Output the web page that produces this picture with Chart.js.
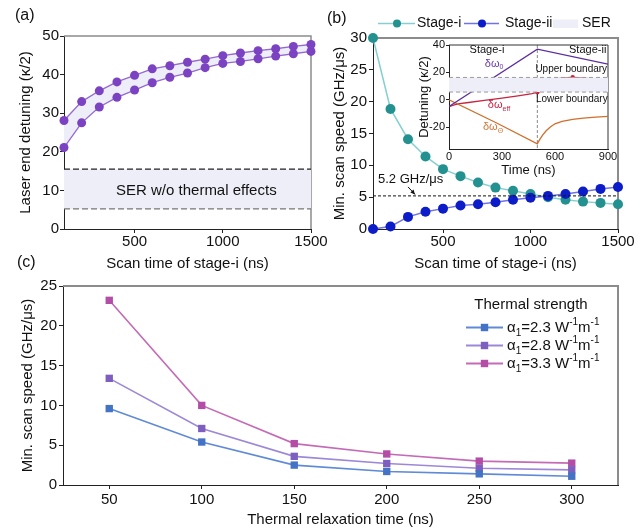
<!DOCTYPE html>
<html><head><meta charset="utf-8">
<script src="https://cdn.jsdelivr.net/npm/chart.js@4.4.0/dist/chart.umd.min.js"></script>
<style>
html,body{margin:0;padding:0;background:#fff;}
#wrap{position:relative;width:644px;height:529px;overflow:hidden;font-family:'Liberation Sans',Arial,sans-serif;background:#fff;}
canvas{position:absolute;}
.pl{position:absolute;font-size:16px;color:#111;line-height:20px;}
</style></head><body>
<div id="wrap">
<canvas id="ca" width="330" height="280" style="left:0;top:0;width:330px;height:280px"></canvas>
<canvas id="cb" width="322" height="280" style="left:322px;top:0;width:322px;height:280px"></canvas>
<canvas id="ci" width="225" height="145" style="left:395px;top:35px;width:225px;height:145px"></canvas>
<canvas id="cc" width="644" height="254" style="left:0;top:275px;width:644px;height:254px"></canvas>
<div class="pl" style="left:15px;top:5px">(a)</div>
<div class="pl" style="left:327px;top:8px">(b)</div>
<div class="pl" style="left:17px;top:252px">(c)</div>
</div>
<script>
// ---------- data ----------
const scanTimes = [100,200,300,400,500,600,700,800,900,1000,1100,1200,1300,1400,1500];
const scanTimeTicks = [500,1000,1500];
const endDetuningUpper = [28.1,33.0,35.8,38.1,39.8,41.5,42.3,43.2,44.0,44.9,45.6,46.2,46.7,47.3,47.8];
const endDetuningLower = [21.1,27.5,31.6,34.1,36.0,37.9,39.3,40.4,41.8,42.9,43.4,44.1,44.8,45.4,46.0];
const serNoThermal = [5.2, 15.5];

const stageISpeed  = [30,18.85,14.1,11.4,9.4,8.3,7.3,6.5,6.0,5.5,5.0,4.6,4.3,4.1,3.9];
const stageIISpeed = [0,0.4,1.9,2.7,3.2,3.7,3.9,4.2,4.6,4.9,5.2,5.5,5.9,6.3,6.6];
const minSpeedLine = 5.2;

const insetTimeOmega0 = [0,500,900];
const insetOmega0 = [-5,37,26];
const insetTimeEff = [0,30,60,100,200,300,400,470,500,510,525,550,575,600,640,700,760,830,900];
const insetOmegaEff = [-5,-3.8,-2.9,-2.2,-0.5,1.2,3.0,4.4,5.5,6.3,8.2,11,13.5,15,16,16.4,16,14.9,13.5];
const insetEffMarkTimes = [500,700];
const insetTimeTheta = [0,270,500,505,515,530,550,575,600,640,700,760,830,900];
const insetOmegaTheta = [0,-17,-32.2,-31,-28.8,-25.8,-22.7,-19.8,-17.6,-15.8,-14.3,-13.4,-12.7,-12.2];
const insetSER = [5.6, 16.3];
const stageBoundary = 500;
const insetXTicks = [0,300,600,900];
const insetYTicks = [-20,0,20,40];

const relaxTimes = ['50','100','150','200','250','300'];
const speedAlpha23 = [9.6,5.4,2.5,1.7,1.4,1.1];
const speedAlpha28 = [13.4,7.1,3.6,2.7,2.1,1.9];
const speedAlpha33 = [23.2,10.0,5.2,3.9,3.0,2.75];
const alphaValues = ['2.3','2.8','3.3'];

// ---------- helpers ----------
const FF = "'Liberation Sans', Arial, Helvetica, sans-serif";
Chart.defaults.font.family = FF;
Chart.defaults.color = '#111';
const toXY = (xs, ys) => xs.map((x,i)=>({x:x, y:ys[i]}));

function richText(ctx, x, y, parts, size, color, align){
  // parts: [{t, s:'sub'|'sup'}]
  let w = 0;
  const fs = p => p.s ? p.sz || Math.round(size*0.66) : size;
  parts.forEach(p=>{ ctx.font = fs(p)+'px '+FF; w += ctx.measureText(p.t).width; });
  let cx = align==='center' ? x - w/2 : (align==='right' ? x - w : x);
  ctx.textAlign='left'; ctx.textBaseline='middle';
  parts.forEach(p=>{
    ctx.font = fs(p)+'px '+FF;
    ctx.fillStyle = p.c || color;
    let dy = 0;
    if (p.s==='sub') dy = size*0.35;
    if (p.s==='sup') dy = -size*0.33;
    ctx.fillText(p.t, cx, y+dy);
    cx += ctx.measureText(p.t).width;
  });
}

const framePlugin = {
  id:'frame',
  beforeDatasetsDraw(chart, args, opts){
    const {ctx, chartArea:a} = chart;
    ctx.save();
    ctx.strokeStyle = opts.color || '#8c8c8c';
    ctx.lineWidth = opts.width || 2;
    ctx.beginPath();
    ctx.moveTo(a.left, a.top); ctx.lineTo(a.right, a.top); ctx.lineTo(a.right, a.bottom);
    ctx.stroke();
    ctx.restore();
  }
};

function axisX(opt){
  return Object.assign({
    type:'linear',
    grid:{display:true, drawOnChartArea:false, drawTicks:true, tickLength:4, color:'#222'},
    border:{display:true, color:'#222', width:1},
    ticks:{padding:0, color:'#111', font:{size:15}, maxRotation:0, autoSkip:false, callback:v=>String(v)},
  }, opt);
}
function axisY(opt){
  return Object.assign({
    grid:{display:true, drawOnChartArea:false, drawTicks:true, tickLength:4, color:'#222'},
    border:{display:true, color:'#222', width:1},
    ticks:{padding:1, color:'#111', font:{size:15}, callback:v=>String(v)},
  }, opt);
}
const baseOpts = (padding) => ({
  responsive:false, animation:false, devicePixelRatio:1,
  layout:{padding:padding},
  plugins:{legend:{display:false}, tooltip:{enabled:false}},
  elements:{line:{tension:0}},
});

// ---------- panel (a) ----------
{
  const purpleM = '#7b42c2', purpleL = '#9468d0', band = '#eeeef8';
  const o = baseOpts({left:0, top:36, right:19, bottom:0});
  o.scales = {
    x: axisX({min:100, max:1500,
      afterBuildTicks:s=>{ s.ticks = scanTimeTicks.map(v=>({value:v})); },
      afterFit:s=>{ s.height = 51; },
      title:{display:true, text:'Scan time of stage-i (ns)', color:'#111', font:{size:15}, padding:{top:0,bottom:7}}
    }),
    y: axisY({min:0, max:50, ticks:{stepSize:10, padding:1, color:'#111', font:{size:15}},
      afterFit:s=>{ s.width = 64; },
      title:{display:true, text:'Laser end detuning (κ/2)', color:'#111', font:{size:15}, padding:{top:17,bottom:0}}
    })
  };
  o.plugins.frame = {color:'#8c8c8c', width:1.5};
  const labelPlugin = {
    id:'labA',
    afterDatasetsDraw(chart){
      const {ctx, scales} = chart;
      ctx.save();
      ctx.font = '15px '+FF; ctx.fillStyle = '#111'; ctx.textAlign='center'; ctx.textBaseline='middle';
      ctx.fillText('SER w/o thermal effects', scales.x.getPixelForValue(850), scales.y.getPixelForValue(10));
      ctx.restore();
    }
  };
  new Chart(document.getElementById('ca'), {
    type:'line',
    data:{datasets:[
      {data:toXY([100,1500],[serNoThermal[1],serNoThermal[1]]), borderColor:'#222', borderWidth:1.2, borderDash:[6,3], pointRadius:0, fill:false},
      {data:toXY([100,1500],[serNoThermal[0],serNoThermal[0]]), borderColor:'#777', borderWidth:1.2, borderDash:[6,3], pointRadius:0, fill:'-1', backgroundColor:band},
      {data:toXY(scanTimes, endDetuningUpper), borderColor:purpleL, borderWidth:1.3, pointRadius:4.5, pointBackgroundColor:purpleM, pointBorderColor:purpleM, pointBorderWidth:0, fill:false, clip:false},
      {data:toXY(scanTimes, endDetuningLower), borderColor:purpleL, borderWidth:1.3, pointRadius:4.5, pointBackgroundColor:purpleM, pointBorderColor:purpleM, pointBorderWidth:0, fill:'-1', backgroundColor:band, clip:false},
    ]},
    options:o,
    plugins:[framePlugin, labelPlugin]
  });
}

// ---------- panel (b) ----------
{
  const tealM='#23918f', tealL='#86cfcf', blueM='#0c1cc8', blueL='#7074e2';
  const o = baseOpts({left:0, top:38, right:26, bottom:0});
  o.scales = {
    x: axisX({min:100, max:1500,
      afterBuildTicks:s=>{ s.ticks = scanTimeTicks.map(v=>({value:v})); },
      afterFit:s=>{ s.height = 51; },
      title:{display:true, text:'Scan time of stage-i (ns)', color:'#111', font:{size:15}, padding:{top:0,bottom:7}}
    }),
    y: axisY({min:0, max:30, ticks:{stepSize:5, padding:2, color:'#111', font:{size:15}},
      afterFit:s=>{ s.width = 51; },
      title:{display:true, text:'Min. scan speed (GHz/μs)', color:'#111', font:{size:15}, padding:{top:9,bottom:0}}
    })
  };
  o.plugins.frame = {color:'#8c8c8c', width:2};
  const extra = {
    id:'labB',
    afterDatasetsDraw(chart){
      const {ctx, scales, chartArea:a} = chart;
      const yl = scales.y.getPixelForValue(minSpeedLine);
      ctx.save();
      ctx.font = '13px '+FF; ctx.fillStyle='#111'; ctx.textAlign='left'; ctx.textBaseline='middle';
      ctx.fillText('5.2 GHz/μs', a.left+5, yl-16);
      // arrow
      const x0=a.left+35, y0=yl-9, x1=a.left+42, y1=yl-1.5;
      ctx.strokeStyle='#111'; ctx.lineWidth=1;
      ctx.beginPath(); ctx.moveTo(x0,y0); ctx.lineTo(x1,y1); ctx.stroke();
      const ang=Math.atan2(y1-y0,x1-x0);
      ctx.beginPath(); ctx.moveTo(x1,y1);
      ctx.lineTo(x1-5*Math.cos(ang-0.45), y1-5*Math.sin(ang-0.45));
      ctx.lineTo(x1-5*Math.cos(ang+0.45), y1-5*Math.sin(ang+0.45));
      ctx.closePath(); ctx.fillStyle='#111'; ctx.fill();
      ctx.restore();
    },
    afterDraw(chart){
      const ctx = chart.ctx;
      ctx.save();
      const y = 23.5;
      const item = (x0,x1,xm,col,lcol,label,tx)=>{
        ctx.strokeStyle=lcol; ctx.lineWidth=1.5;
        ctx.beginPath(); ctx.moveTo(x0,y); ctx.lineTo(x1,y); ctx.stroke();
        ctx.fillStyle=col; ctx.beginPath(); ctx.arc(xm,y,4,0,Math.PI*2); ctx.fill();
        ctx.fillStyle='#111'; ctx.font='14px '+FF; ctx.textAlign='left'; ctx.textBaseline='middle';
        ctx.fillText(label, tx, y);
      };
      item(56,93,75,tealM,tealL,'Stage-i',95);
      item(142,177,160,blueM,blueL,'Stage-ii',183);
      ctx.fillStyle='#eeeef8'; ctx.fillRect(231,19.5,25,8.5);
      ctx.fillStyle='#111'; ctx.fillText('SER', 260, y);
      ctx.restore();
    }
  };
  new Chart(document.getElementById('cb'), {
    type:'line',
    data:{datasets:[
      {data:toXY([100,1500],[minSpeedLine,minSpeedLine]), borderColor:'#111', borderWidth:1, borderDash:[3,2], pointRadius:0, fill:false},
      {data:toXY(scanTimes, stageIISpeed), borderColor:blueL, borderWidth:1.5, pointRadius:5, pointBackgroundColor:blueM, pointBorderColor:blueM, pointBorderWidth:0, clip:false},
      {data:toXY(scanTimes, stageISpeed), borderColor:tealL, borderWidth:1.5, pointRadius:5, pointBackgroundColor:tealM, pointBorderColor:tealM, pointBorderWidth:0, clip:false},
    ]},
    options:o,
    plugins:[framePlugin, extra]
  });
}

// ---------- inset ----------
{
  const o = baseOpts({left:0, top:10, right:12, bottom:0});
  o.scales = {
    x: axisX({min:0, max:900,
      afterBuildTicks:s=>{ s.ticks = insetXTicks.map(v=>({value:v})); },
      afterFit:s=>{ s.height = 31; },
      grid:{display:true, drawOnChartArea:false, drawTicks:false, color:'#222'},
      ticks:{padding:1, color:'#111', font:{size:11}, maxRotation:0, autoSkip:false, callback:v=>String(v)},
      title:{display:true, text:'Time (ns)', color:'#111', font:{size:13}, padding:{top:0,bottom:2}}
    }),
    y: axisY({min:-36, max:40,
      afterBuildTicks:s=>{ s.ticks = insetYTicks.map(v=>({value:v})); },
      afterFit:s=>{ s.width = 54; },
      grid:{display:true, drawOnChartArea:false, drawTicks:true, tickLength:3, color:'#222'},
      ticks:{padding:1, color:'#111', font:{size:11}, callback:v=>String(v)},
      title:{display:true, text:'Detuning (κ/2)', color:'#111', font:{size:13}, padding:{top:22,bottom:0}}
    })
  };
  const insetPlugin = {
    id:'inset',
    beforeDraw(chart){
      const {ctx, chartArea:a} = chart;
      ctx.save(); ctx.fillStyle='#fff'; ctx.fillRect(a.left,a.top,a.right-a.left,a.bottom-a.top); ctx.restore();
    },
    beforeDatasetsDraw(chart){
      const {ctx, chartArea:a, scales} = chart;
      ctx.save();
      const xv = scales.x.getPixelForValue(stageBoundary);
      ctx.strokeStyle='#8a8a8a'; ctx.lineWidth=1; ctx.setLineDash([3,2]);
      ctx.beginPath(); ctx.moveTo(xv,a.top); ctx.lineTo(xv,a.bottom); ctx.stroke();
      ctx.setLineDash([]);
      ctx.strokeStyle='#333'; ctx.lineWidth=1;
      ctx.beginPath(); ctx.moveTo(a.left,a.top); ctx.lineTo(a.right,a.top); ctx.lineTo(a.right,a.bottom); ctx.stroke();
      ctx.restore();
    },
    afterDatasetsDraw(chart){
      const {ctx, scales} = chart;
      const X = v=>scales.x.getPixelForValue(v), Y = v=>scales.y.getPixelForValue(v);
      ctx.save();
      ctx.font='11px '+FF; ctx.fillStyle='#111'; ctx.textAlign='center'; ctx.textBaseline='middle';
      ctx.fillText('Stage-i', X(215), Y(36.6));
      ctx.fillText('Stage-ii', X(785), Y(36.6));
      ctx.font='10px '+FF;
      ctx.fillText('Upper boundary', X(692), Y(22));
      ctx.fillText('Lower boundary', X(695), Y(0.7));
      richText(ctx, X(203), Y(26.4), [{t:'δω'},{t:'0',s:'sub',sz:7}], 11, '#6a3aa8', 'left');
      richText(ctx, X(220), Y(-3.7), [{t:'δω'},{t:'eff',s:'sub',sz:7}], 11, '#c8243f', 'left');
      richText(ctx, X(192), Y(-19.8), [{t:'δω'},{t:'Θ',s:'sub',sz:7}], 11, '#d2773a', 'left');
      ctx.restore();
    }
  };
  new Chart(document.getElementById('ci'), {
    type:'line',
    data:{datasets:[
      {data:toXY([0,900],[insetSER[1],insetSER[1]]), borderColor:'#9a9a9a', borderWidth:1, borderDash:[4,3], pointRadius:0, fill:false},
      {data:toXY([0,900],[insetSER[0],insetSER[0]]), borderColor:'#9a9a9a', borderWidth:1, borderDash:[4,3], pointRadius:0, fill:'-1', backgroundColor:'#eeeef8'},
      {data:toXY(insetTimeOmega0, insetOmega0), borderColor:'#5b2d9e', borderWidth:1.3, pointRadius:0},
      {data:toXY(insetTimeTheta, insetOmegaTheta), borderColor:'#d06f2c', borderWidth:1.3, pointRadius:0},
      {data:toXY(insetTimeEff, insetOmegaEff), borderColor:'#c8243f', borderWidth:1.3,
        pointRadius:c=>insetEffMarkTimes.includes(insetTimeEff[c.dataIndex])?2.2:0,
        pointBackgroundColor:'#c8243f', pointBorderWidth:0},
    ]},
    options:o,
    plugins:[insetPlugin]
  });
}

// ---------- panel (c) ----------
{
  const cols = [
    {m:'#4472c4', l:'#5f8ad6'},
    {m:'#7e5fc0', l:'#9d88d8'},
    {m:'#b34da5', l:'#c46bb8'},
  ];
  const series = [speedAlpha23, speedAlpha28, speedAlpha33];
  const o = baseOpts({left:0, top:10, right:26, bottom:0});
  o.scales = {
    x: {type:'category', offset:true,
      grid:{display:true, drawOnChartArea:false, drawTicks:true, tickLength:4, color:'#222', offset:false},
      border:{display:true, color:'#222', width:1},
      ticks:{padding:2, color:'#111', font:{size:15}, maxRotation:0, autoSkip:false},
      afterFit:s=>{ s.height = 44; },
      title:{display:true, text:'Thermal relaxation time (ns)', color:'#111', font:{size:15}, padding:{top:0,bottom:0}}
    },
    y: axisY({min:0, max:25, ticks:{stepSize:5, padding:2, color:'#111', font:{size:15}},
      afterFit:s=>{ s.width = 63; },
      title:{display:true, text:'Min. scan speed (GHz/μs)', color:'#111', font:{size:15}, padding:{top:19,bottom:0}}
    })
  };
  o.plugins.frame = {color:'#8c8c8c', width:2};
  const legendC = {
    id:'legC',
    afterDraw(chart){
      const ctx = chart.ctx;
      ctx.save();
      ctx.font='15px '+FF; ctx.fillStyle='#111'; ctx.textAlign='center'; ctx.textBaseline='middle';
      ctx.fillText('Thermal strength', 531, 30);
      const rows = [52.5, 70.5, 88.5];
      rows.forEach((y,i)=>{
        ctx.strokeStyle=cols[i].l; ctx.lineWidth=2;
        ctx.beginPath(); ctx.moveTo(466,y); ctx.lineTo(503,y); ctx.stroke();
        ctx.fillStyle=cols[i].m; ctx.fillRect(484.5-3.7,y-3.7,7.4,7.4);
        richText(ctx, 507, y, [{t:'α'},{t:'1',s:'sub'},{t:'='+alphaValues[i]+' W'},{t:'-1',s:'sup'},{t:'m'},{t:'-1',s:'sup'}], 15, '#111', 'left');
      });
      ctx.restore();
    }
  };
  new Chart(document.getElementById('cc'), {
    type:'line',
    data:{labels:relaxTimes, datasets: series.map((s,i)=>({
      data:s, borderColor:cols[i].l, borderWidth:1.6, pointStyle:'rect', pointRadius:5.2,
      pointBackgroundColor:cols[i].m, pointBorderColor:cols[i].m, pointBorderWidth:0, clip:false
    }))},
    options:o,
    plugins:[framePlugin, legendC]
  });
}
</script>
</body></html>
